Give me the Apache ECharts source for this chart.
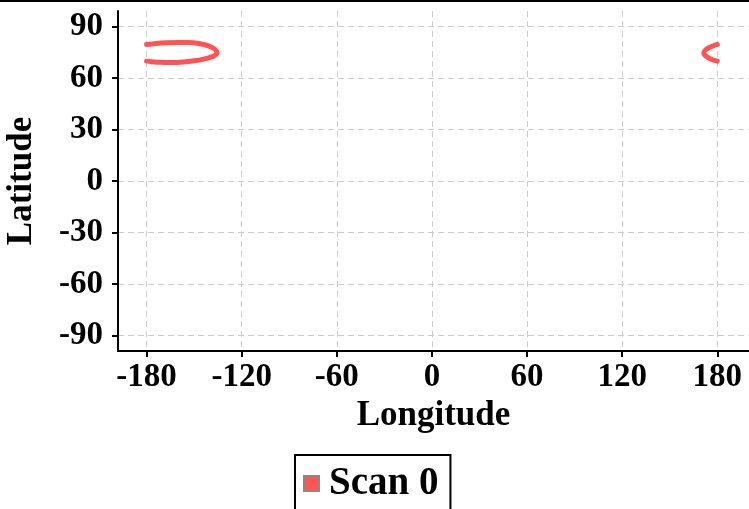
<!DOCTYPE html>
<html><head><meta charset="utf-8">
<script src="https://cdn.jsdelivr.net/npm/echarts@6/dist/echarts.min.js"></script>
<style>html,body{margin:0;padding:0;background:#fff}#c{width:749px;height:509px}</style>
</head><body><div id="c"></div>
<script>
const seriesName = 'Scan 0';
const lonTicks = [-180, -120, -60, 0, 60, 120, 180];
const latTicks = [-90, -60, -30, 0, 30, 60, 90];
// track segment west of the antimeridian
const westLon = [-180, -174, -167, -160, -154, -147, -141, -137, -135.5, -136.5, -139, -144, -150, -157, -164, -171, -177, -180];
const westLat = [79.5, 80.1, 80.5, 80.6, 80.6, 80.1, 78.7, 76.8, 74.8, 73.4, 72.3, 71.0, 70.0, 69.3, 69.0, 69.1, 69.5, 69.8];
// track segment east of the antimeridian
const eastLon = [180, 177, 174, 172, 171.5, 172.5, 175, 178, 180];
const eastLat = [69.8, 70.6, 72.0, 73.5, 74.8, 76.3, 77.8, 78.9, 79.5];

const FONT = 'Liberation Serif';
const color = '#ff5454';
const zip = (a, b) => a.map((v, i) => [v, b[i]]);
const txt = (size) => ({ fontFamily: FONT, fontWeight: 'bold', fontSize: size, color: '#000' });

const chart = echarts.init(document.getElementById('c'), null, { renderer: 'canvas' });
const axisCommon = (ticks, margin) => ({
  type: 'value',
  nameLocation: 'middle',
  nameTextStyle: txt(35),
  axisLine: { show: true, onZero: false, lineStyle: { color: '#000', width: 2 } },
  axisTick: { show: true, length: 6, customValues: ticks, lineStyle: { color: '#000', width: 2 } },
  axisLabel: Object.assign({ customValues: ticks, margin: margin }, txt(33)),
  splitLine: { show: true, lineStyle: { type: [6, 4], color: '#cccccc', width: 1 } }
});
const option = {
  animation: false,
  backgroundColor: '#fff',
  graphic: [{ type: 'rect', shape: { x: 0, y: 0, width: 749, height: 2 }, style: { fill: '#000' } }],
  grid: { left: 118, right: 0, top: 11, bottom: 158, outerBoundsMode: 'none', containLabel: false },
  legend: {
    data: [seriesName], left: 295, top: 455, icon: 'rect', itemWidth: 15, itemHeight: 15,
    borderColor: '#000', borderWidth: 2, borderRadius: 0, padding: [9, 12, 40, 8],
    textStyle: Object.assign({ padding: [0, 0, 0, 5] }, txt(39)),
    itemStyle: { borderColor: '#888', borderWidth: 2 }
  },
  xAxis: Object.assign(axisCommon(lonTicks, 10), { min: -198, max: 200, name: 'Longitude', nameGap: 44 }),
  yAxis: Object.assign(axisCommon(latTicks, 15), { min: -99, max: 99, name: 'Latitude', nameGap: 79 }),
  series: [
    { name: seriesName, type: 'line', data: zip(westLon, westLat), smooth: 0.3, showSymbol: false, symbol: 'none',
      color: color, lineStyle: { color: color, width: 5, cap: 'round', join: 'round' } },
    { name: seriesName, type: 'line', data: zip(eastLon, eastLat), smooth: 0.3, showSymbol: false, symbol: 'none',
      color: color, lineStyle: { color: color, width: 5, cap: 'round', join: 'round' } }
  ]
};
chart.setOption(option);
</script></body></html>
